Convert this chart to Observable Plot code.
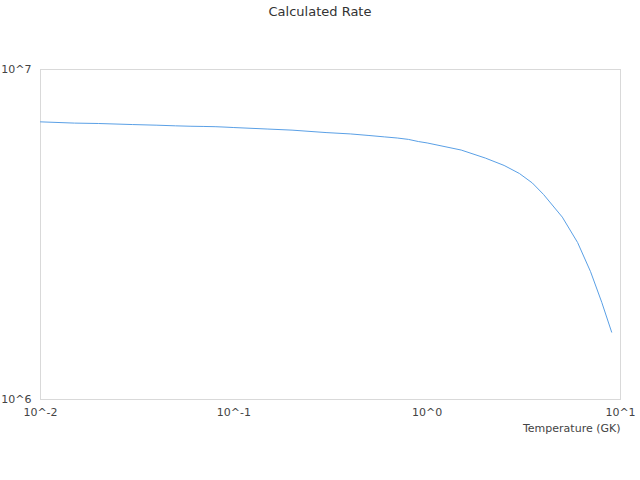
<!DOCTYPE html>
<html>
<head>
<meta charset="utf-8">
<script src="https://cdn.jsdelivr.net/npm/d3@7"></script>
<script src="https://cdn.jsdelivr.net/npm/@observablehq/plot@0.6"></script>
<style>
  html, body { margin: 0; padding: 0; background: #fff; }
  #title { width: 640px; height: 24px; line-height: 24px; text-align: center;
           font-family: "DejaVu Sans", sans-serif; font-size: 13px; color: #333; }
</style>
</head>
<body>
<div id="title">Calculated Rate</div>
<div id="chart"></div>
<script>
const temperatures = [0.01, 0.015, 0.02, 0.03, 0.04, 0.05, 0.06, 0.07, 0.08, 0.09,
  0.1, 0.15, 0.2, 0.3, 0.4, 0.5, 0.6, 0.7, 0.8, 0.9,
  1, 1.5, 2, 2.5, 3, 3.5, 4, 5, 6, 7, 8, 9];
const rates = [6.94e6, 6.88e6, 6.86e6, 6.81e6, 6.78e6, 6.75e6, 6.73e6, 6.72e6, 6.71e6, 6.69e6,
  6.67e6, 6.60e6, 6.55e6, 6.44e6, 6.38e6, 6.31e6, 6.25e6, 6.20e6, 6.14e6, 6.05e6,
  5.99e6, 5.70e6, 5.39e6, 5.12e6, 4.84e6, 4.53e6, 4.18e6, 3.57e6, 2.99e6, 2.44e6, 1.97e6, 1.60e6];
const xTicks = [0.01, 0.1, 1, 10];
const yTicks = [1e6, 1e7];
const xLabel = "Temperature (GK)";

const data = temperatures.map((t, i) => ({t, r: rates[i]}));
const fmt = d => "10^" + Math.round(Math.log10(d));

const chart = Plot.plot({
  width: 640,
  height: 456,
  marginTop: 45,
  marginBottom: 81,
  marginLeft: 40,
  marginRight: 20,
  style: {fontFamily: "DejaVu Sans, sans-serif", fontSize: "11px", color: "#444", background: "#fff"},
  x: {type: "log", domain: [0.01, 10]},
  y: {type: "log", domain: [1e6, 1e7]},
  marks: [
    Plot.frame({stroke: "#d9d9d9"}),
    Plot.axisX({ticks: xTicks, tickFormat: fmt, tickSize: 0, tickPadding: 9, label: null}),
    Plot.axisY({ticks: yTicks, tickFormat: fmt, tickSize: 0, tickPadding: 9, label: null}),
    Plot.line(data, {x: "t", y: "r", stroke: "#5aa0e6", strokeWidth: 1}),
    Plot.text([xLabel], {frameAnchor: "bottom-right", dy: 32, textAnchor: "end", fill: "#444"})
  ]
});
document.getElementById("chart").appendChild(chart);
</script>
</body>
</html>
